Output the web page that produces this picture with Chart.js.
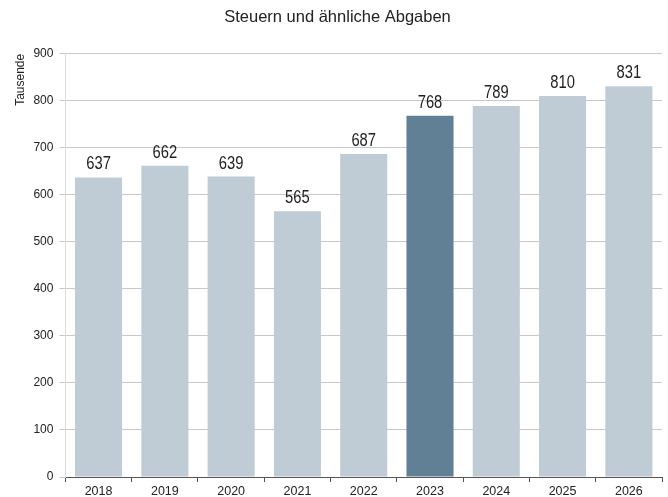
<!DOCTYPE html>
<html>
<head>
<meta charset="utf-8">
<script src="https://cdn.jsdelivr.net/npm/chart.js@4/dist/chart.umd.min.js"></script>
<style>
  html, body { margin: 0; padding: 0; background: #fff; }
  #wrap { width: 668px; height: 497px; }
</style>
</head>
<body>
<div id="wrap"><canvas id="chartSteuern" width="668" height="497"></canvas></div>
<script>
var years = ['2018', '2019', '2020', '2021', '2022', '2023', '2024', '2025', '2026'];
var values = [637, 662, 639, 565, 687, 768, 789, 810, 831];
var highlightYear = '2023';
var yTicks = [0, 100, 200, 300, 400, 500, 600, 700, 800, 900];

var barColors = years.map(function (y) {
  return y === highlightYear ? '#617f95' : '#bfccd5';
});

// draws the value above each bar (narrowed a bit, like the original's condensed face)
var valueLabels = {
  id: 'valueLabels',
  afterDatasetsDraw: function (chart) {
    var ctx = chart.ctx;
    var meta = chart.getDatasetMeta(0);
    var squeeze = 0.82;
    ctx.save();
    ctx.fillStyle = '#222';
    ctx.font = '18px "Liberation Sans", Arial, sans-serif';
    ctx.textAlign = 'center';
    ctx.textBaseline = 'alphabetic';
    meta.data.forEach(function (bar, i) {
      ctx.save();
      ctx.translate(bar.x, bar.y - 8);
      ctx.scale(squeeze, 1);
      ctx.fillText(values[i], 0, 0);
      ctx.restore();
    });
    ctx.restore();
  }
};

var ctx = document.getElementById('chartSteuern');
var chartSteuern = new Chart(ctx, {
  type: 'bar',
  data: {
    labels: years,
    datasets: [{
      label: 'Steuern und ähnliche Abgaben',
      data: values,
      backgroundColor: barColors,
      borderWidth: 0,
      categoryPercentage: 1,
      barPercentage: 0.71
    }]
  },
  options: {
    responsive: false,
    animation: false,
    layout: { padding: { top: 4, right: 6, left: 13, bottom: -4 } },
    scales: {
      x: {
        grid: {
          display: true,
          drawOnChartArea: false,
          drawTicks: true,
          tickLength: 5,
          color: '#555',
          offset: true
        },
        border: { color: '#555' },
        ticks: {
          color: '#222',
          font: { family: 'Liberation Sans, Arial, sans-serif', size: 12.5 },
          padding: 2
        }
      },
      y: {
        min: 0,
        max: 900,
        afterBuildTicks: function (axis) {
          axis.ticks = yTicks.map(function (v) { return { value: v }; });
        },
        grid: {
          color: '#c8c8c8',
          tickLength: 6
        },
        border: { color: '#dcdcdc' },
        ticks: {
          color: '#222',
          font: { family: 'Liberation Sans, Arial, sans-serif', size: 12 },
          padding: 6
        },
        title: {
          display: true,
          text: 'Tausende',
          align: 'end',
          color: '#222',
          font: { family: 'Liberation Sans Narrow, Liberation Sans, Arial, sans-serif', size: 12 },
          padding: 0
        }
      }
    },
    plugins: {
      legend: { display: false },
      tooltip: { enabled: false },
      title: {
        display: true,
        text: 'Steuern und ähnliche Abgaben',
        color: '#222',
        font: { family: 'Liberation Sans, Arial, sans-serif', size: 16.5, weight: 'normal' },
        padding: { top: 4, bottom: 26 }
      }
    }
  },
  plugins: [valueLabels]
});
</script>
</body>
</html>
